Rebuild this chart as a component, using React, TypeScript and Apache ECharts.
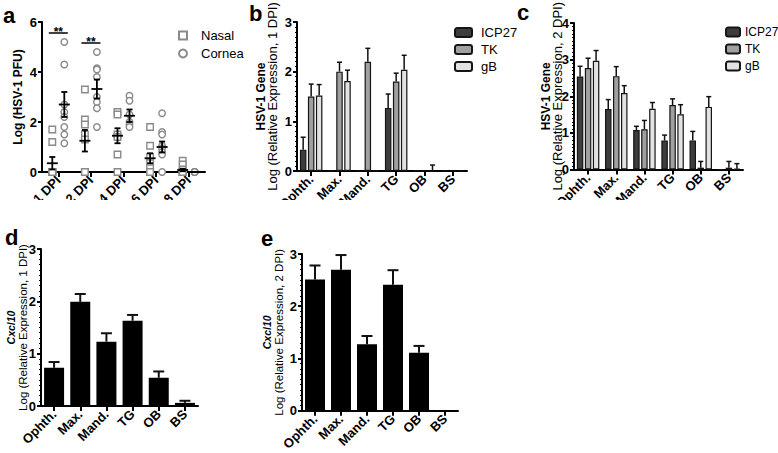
import React, { useEffect, useRef } from "react";
import * as echarts from "echarts";

// ---------- data ----------
const dpiLabels = ["1 DPI", "2 DPI", "4 DPI", "6 DPI", "8 DPI"];
const nasalPoints = [
  [1.7, 1.2, 0, 0, 0, 0, 0, 0],
  [3.3, 2.1, 1.9, 1.5, 1.3, 0, 0, 0],
  [2.4, 2.3, 1.5, 1.4, 0.7, 0],
  [1.8, 1.05, 0.6, 0.35, 0.15, 0, 0, 0],
  [0.45, 0.3, 0.1, 0, 0, 0, 0, 0],
];
const corneaPoints = [
  [5.2, 4.3, 2.7, 2.4, 2.2, 1.8, 1.5, 1.15],
  [4.8, 4.15, 4.1, 3.8, 3.0, 2.8, 2.55, 1.8],
  [3.05, 2.85, 2.3, 2.0, 1.9, 1.8],
  [2.35, 1.6, 1.5, 1.05, 0.95, 0.8, 0.7, 0],
  [0, 0, 0, 0, 0, 0],
];
const nasalMean = [0.35, 1.25, 1.45, 0.55, 0.08];
const nasalSem = [0.25, 0.43, 0.3, 0.2, 0.05];
const corneaMean = [2.7, 3.32, 2.25, 1.0, 0];
const corneaSem = [0.5, 0.38, 0.25, 0.22, 0];
const sigCats = [0, 1];
const sigLevels = [5.56, 5.16];

const tissues = ["Ophth.", "Max.", "Mand.", "TG", "OB", "BS"];
const geneNames = ["ICP27", "TK", "gB"];
const b1ICP27 = [0.43, 0, 0, 1.27, 0, 0];
const b1ICP27Err = [0.25, 0, 0, 0.28, 0, 0];
const b1TK = [1.5, 2.0, 2.2, 1.8, 0, 0];
const b1TKErr = [0.25, 0.19, 0.27, 0.17, 0, 0];
const b1gB = [1.52, 1.81, 0, 2.04, 0, 0];
const b1gBErr = [0.22, 0.22, 0, 0.29, 0.12, 0];

const c2ICP27 = [2.54, 1.65, 1.08, 0.79, 0.79, 0];
const c2ICP27Err = [0.28, 0.26, 0.1, 0.15, 0.25, 0];
const c2TK = [2.77, 2.55, 1.1, 1.76, 0.05, 0.05];
const c2TKErr = [0.27, 0.26, 0.24, 0.17, 0.17, 0.17];
const c2gB = [2.97, 2.09, 1.66, 1.51, 1.71, 0.02];
const c2gBErr = [0.28, 0.2, 0.17, 0.26, 0.28, 0.14];

const cxcl10Day1 = [0.73, 1.99, 1.23, 1.63, 0.54, 0.06];
const cxcl10Day1Err = [0.11, 0.15, 0.16, 0.11, 0.12, 0.04];
const cxcl10Day2 = [2.51, 2.7, 1.27, 2.41, 1.11, 0];
const cxcl10Day2Err = [0.27, 0.28, 0.16, 0.28, 0.13, 0];

// ---------- styles ----------
const font = "'Liberation Sans', Arial, Helvetica, sans-serif";
const geneColors = ["#3d3d3d", "#a0a0a0", "#e2e2e2"];
const markerGray = "#8a8a8a";

function errorSeries(
  axisIdx: number,
  vals: number[],
  errs: number[],
  offset: number,
  capHalf: number,
  lw: number
) {
  return {
    type: "custom",
    xAxisIndex: axisIdx,
    yAxisIndex: axisIdx,
    z: 1,
    silent: true,
    data: vals.map((v, i) => [i, v, errs[i]]),
    renderItem: (params: any, api: any) => {
      const i = api.value(0);
      const v = api.value(1);
      const e = api.value(2);
      if (!(e > 0)) return { type: "group", children: [] };
      const base = api.coord([i, v]);
      const top = api.coord([i, v + e]);
      const x = base[0] + offset;
      const style = { stroke: "#111", lineWidth: lw };
      return {
        type: "group",
        children: [
          { type: "line", shape: { x1: x, y1: base[1], x2: x, y2: top[1] }, style },
          { type: "line", shape: { x1: x - capHalf, y1: top[1], x2: x + capHalf, y2: top[1] }, style },
        ],
      };
    },
  };
}

function meanSemSeries(means: number[], sems: number[], offset: number) {
  return {
    type: "custom",
    xAxisIndex: 0,
    yAxisIndex: 0,
    z: 5,
    silent: true,
    data: means.map((m, i) => [i, m, sems[i]]),
    renderItem: (params: any, api: any) => {
      const i = api.value(0);
      const m = api.value(1);
      const s = api.value(2);
      const c = api.coord([i, m]);
      const x = c[0] + offset;
      const yT = api.coord([i, m + s])[1];
      const yB = api.coord([i, Math.max(m - s, 0)])[1];
      const style = { stroke: "#000", lineWidth: 1.8 };
      return {
        type: "group",
        children: [
          { type: "line", shape: { x1: x - 5.5, y1: c[1], x2: x + 5.5, y2: c[1] }, style },
          { type: "line", shape: { x1: x, y1: yT, x2: x, y2: yB }, style },
          { type: "line", shape: { x1: x - 3, y1: yT, x2: x + 3, y2: yT }, style },
          { type: "line", shape: { x1: x - 3, y1: yB, x2: x + 3, y2: yB }, style },
        ],
      };
    },
  };
}

function xCat(gridIndex: number, labels: string[]) {
  return {
    type: "category",
    gridIndex,
    data: labels,
    axisLine: { show: true, lineStyle: { color: "#000", width: 2 } },
    axisTick: { show: true, alignWithLabel: true, length: 5, lineStyle: { color: "#000", width: 2 } },
    axisLabel: {
      rotate: 45,
      interval: 0,
      fontWeight: "bold",
      fontSize: 13,
      color: "#000",
      margin: 6,
      fontFamily: font,
    },
    splitLine: { show: false },
  };
}

function yVal(
  gridIndex: number,
  max: number,
  interval: number,
  name: string,
  nameGap: number,
  rich: any,
  minor: boolean
) {
  return {
    type: "value",
    gridIndex,
    min: 0,
    max,
    interval,
    name,
    nameLocation: "middle",
    nameRotate: 90,
    nameGap,
    nameMoveOverlap: false,
    nameTextStyle: { fontFamily: font, color: "#000", rich, fontSize: 12, fontWeight: "bold", lineHeight: 14 },
    axisLine: { show: true, lineStyle: { color: "#000", width: 2 } },
    axisTick: { show: true, length: 4, lineStyle: { color: "#000", width: 2 } },
    minorTick: { show: minor, splitNumber: 10, length: 2, lineStyle: { color: "#000", width: 1 } },
    axisLabel: { fontWeight: "bold", fontSize: 13, color: "#000", margin: 5, fontFamily: font },
    splitLine: { show: false },
    minorSplitLine: { show: false },
  };
}

const richGene = {
  t: { fontSize: 12, fontWeight: "bold", fontFamily: font, color: "#000", lineHeight: 12 },
  s: { fontSize: 13, fontWeight: "normal", fontFamily: font, color: "#000", lineHeight: 12 },
};
const richCx = {
  t: { fontSize: 10.5, fontWeight: "bold", fontStyle: "italic", fontFamily: font, color: "#000", lineHeight: 12 },
  s: { fontSize: 11.5, fontWeight: "normal", fontFamily: font, color: "#000", lineHeight: 12 },
};

function barSeries(axisIdx: number, name: string, vals: number[], color: string, width: number, gap: string) {
  return {
    type: "bar",
    name,
    xAxisIndex: axisIdx,
    yAxisIndex: axisIdx,
    data: vals,
    barWidth: width,
    barGap: gap,
    z: 2,
    itemStyle: { color, borderColor: "#151515", borderWidth: 1.2 },
  };
}

function scatterSeries(name: string, pts: number[][], symbol: string, off: number) {
  const data: number[][] = [];
  pts.forEach((arr, i) => arr.forEach((v) => data.push([i, v])));
  return {
    type: "scatter",
    name,
    xAxisIndex: 0,
    yAxisIndex: 0,
    symbol,
    symbolSize: 6.5,
    symbolOffset: [off, 0],
    z: 3,
    itemStyle: { color: "#fff", borderColor: markerGray, borderWidth: 1.4, opacity: 1 },
    data,
  };
}

const panelLetter = (text: string, left: number, top: number) => ({
  text,
  left,
  top,
  padding: 0,
  textStyle: { fontSize: 22, fontWeight: "bold", fontFamily: font, color: "#000" },
});

export default function App() {
  const ref = useRef<HTMLDivElement>(null);
  useEffect(() => {
    if (!ref.current) return;
    const chart = echarts.init(ref.current, undefined, { renderer: "svg" });
    const option: any = {
      animation: false,
      backgroundColor: "#fff",
      textStyle: { fontFamily: font },
      title: [
        panelLetter("a", 3, 4),
        panelLetter("b", 249, 2),
        panelLetter("c", 517, 1),
        panelLetter("d", 5, 226),
        panelLetter("e", 261, 227),
      ],
      grid: [
        { left: 42, top: 22, width: 163, height: 150 },
        { left: 297, top: 22, width: 170, height: 149 },
        { left: 574, top: 22, width: 169, height: 147.5 },
        { left: 41, top: 249, width: 157, height: 157 },
        { left: 302, top: 254, width: 156, height: 157 },
      ],
      xAxis: [
        xCat(0, dpiLabels),
        xCat(1, tissues),
        xCat(2, tissues),
        xCat(3, tissues),
        xCat(4, tissues),
      ],
      yAxis: [
        yVal(0, 6, 2, "Log (HSV-1 PFU)", 17, undefined, false),
        yVal(1, 3, 1, "{t|HSV-1 Gene}\n{s|Log (Relative Expression, 1 DPI)}", 18.5, richGene, true),
        yVal(2, 4, 1, "{t|HSV-1 Gene}\n{s|Log (Relative Expression, 2 DPI)}", 10.5, richGene, true),
        yVal(3, 3, 1, "{t|Cxcl10}\n{s|Log (Relative Expression, 1 DPI)}", 12.5, richCx, true),
        yVal(4, 3, 1, "{t|Cxcl10}\n{s|Log (Relative Expression, 2 DPI)}", 17.5, richCx, true),
      ],
      legend: [
        {
          orient: "vertical",
          left: 173,
          top: 24,
          itemWidth: 8,
          itemHeight: 8,
          itemGap: 5,
          data: ["Nasal", "Cornea"],
          textStyle: { fontSize: 13, fontFamily: font, color: "#000", padding: [0, 0, 0, 9] },
        },
        {
          orient: "vertical",
          left: 449,
          top: 21,
          itemWidth: 17,
          itemHeight: 9,
          itemGap: 4,
          data: geneNames,
          textStyle: { fontSize: 13, fontFamily: font, color: "#000", padding: [0, 0, 0, 4] },
        },
        {
          orient: "vertical",
          left: 720,
          top: 21,
          itemWidth: 14,
          itemHeight: 9,
          itemGap: 5,
          data: geneNames,
          textStyle: { fontSize: 12, fontFamily: font, color: "#000" },
        },
      ],
      series: [
        // panel a
        scatterSeries("Nasal", nasalPoints, "rect", -6),
        scatterSeries("Cornea", corneaPoints, "circle", 6),
        meanSemSeries(nasalMean, nasalSem, -6),
        meanSemSeries(corneaMean, corneaSem, 6),
        {
          type: "custom",
          xAxisIndex: 0,
          yAxisIndex: 0,
          silent: true,
          z: 6,
          data: sigCats.map((c, i) => [c, sigLevels[i]]),
          renderItem: (params: any, api: any) => {
            const p = api.coord([api.value(0), api.value(1)]);
            return {
              type: "group",
              children: [
                {
                  type: "line",
                  shape: { x1: p[0] - 9.5, y1: p[1], x2: p[0] + 9.5, y2: p[1] },
                  style: { stroke: "#000", lineWidth: 1.5 },
                },
                {
                  type: "text",
                  style: {
                    text: "**",
                    x: p[0],
                    y: p[1] - 1,
                    align: "center",
                    verticalAlign: "middle",
                    font: `bold 12px ${font}`,
                    fill: "#000",
                  },
                },
              ],
            };
          },
        },
        // panel b
        barSeries(1, "ICP27", b1ICP27, geneColors[0], 6.5, "23%"),
        barSeries(1, "TK", b1TK, geneColors[1], 6.5, "23%"),
        barSeries(1, "gB", b1gB, geneColors[2], 6.5, "23%"),
        errorSeries(1, b1ICP27, b1ICP27Err, -8, 2.5, 1.5),
        errorSeries(1, b1TK, b1TKErr, 0, 2.5, 1.5),
        errorSeries(1, b1gB, b1gBErr, 8, 2.5, 1.5),
        // panel c
        barSeries(2, "ICP27", c2ICP27, geneColors[0], 6.5, "23%"),
        barSeries(2, "TK", c2TK, geneColors[1], 6.5, "23%"),
        barSeries(2, "gB", c2gB, geneColors[2], 6.5, "23%"),
        errorSeries(2, c2ICP27, c2ICP27Err, -8, 2.5, 1.5),
        errorSeries(2, c2TK, c2TKErr, 0, 2.5, 1.5),
        errorSeries(2, c2gB, c2gBErr, 8, 2.5, 1.5),
        // panel d
        {
          type: "bar",
          name: "Cxcl10 1 DPI",
          xAxisIndex: 3,
          yAxisIndex: 3,
          data: cxcl10Day1,
          barWidth: 20,
          z: 2,
          itemStyle: { color: "#000" },
        },
        errorSeries(3, cxcl10Day1, cxcl10Day1Err, 0, 5.5, 2),
        // panel e
        {
          type: "bar",
          name: "Cxcl10 2 DPI",
          xAxisIndex: 4,
          yAxisIndex: 4,
          data: cxcl10Day2,
          barWidth: 20,
          z: 2,
          itemStyle: { color: "#000" },
        },
        errorSeries(4, cxcl10Day2, cxcl10Day2Err, 0, 5.5, 2),
      ],
      graphic: [
        {
          type: "rect",
          z: 100,
          silent: true,
          shape: { x: 0, y: 200, width: 778, height: 25 },
          style: { fill: "#fff" },
        },
      ],
    };
    chart.setOption(option);
    return () => chart.dispose();
  }, []);
  return (
    <div
      ref={ref}
      style={{ position: "fixed", left: 0, top: 0, width: 778, height: 453, background: "#fff" }}
    />
  );
}
